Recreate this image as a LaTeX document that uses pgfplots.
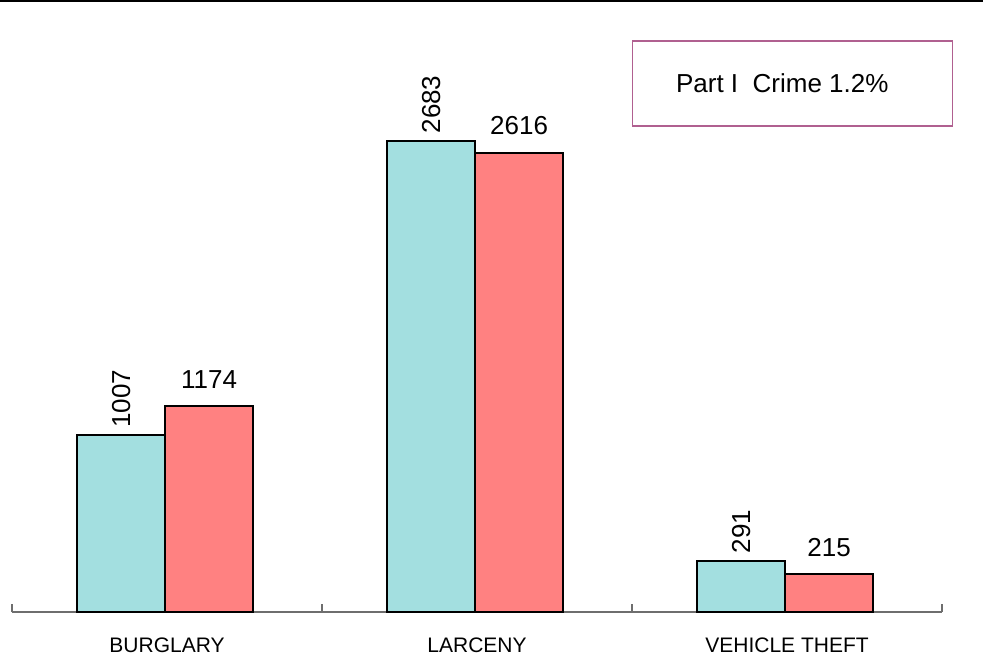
\documentclass[border=0pt]{standalone}
\usepackage{fontspec}
\setmainfont{Liberation Sans}
\usepackage{pgfplots}
\pgfplotsset{compat=1.18}
\definecolor{barteal}{HTML}{A3DFE0}
\definecolor{barred}{HTML}{FF8181}
\definecolor{boxline}{HTML}{B06090}
\definecolor{axisgray}{HTML}{6E6E6E}
\begin{document}
\begin{tikzpicture}
\path[use as bounding box] (0,0) rectangle (491.5pt,335.5pt);
\draw[line width=1pt] (0,335pt) -- (491.5pt,335pt);
\begin{axis}[
    at={(6pt,29.5pt)}, anchor=south west,
    scale only axis,
    width=465pt, height=306pt,
    ybar, bar width=0.284,
    xmin=-0.5, xmax=2.5,
    ymin=0, ymax=3487,
    axis x line=bottom, axis y line=none,
    x axis line style={-, axisgray, line width=0.6pt},
    xtick={-0.5,0.5,1.5,2.5},
    xticklabels={},
    tick align=inside,
    major tick length=4pt,
    major x tick style={axisgray, line width=0.6pt},
    extra x ticks={0,1,2},
    extra x tick labels={BURGLARY,LARCENY,VEHICLE THEFT},
    extra x tick style={major tick length=0pt},
    xticklabel style={font=\fontsize{10.5}{12}\selectfont, yshift=-9.5pt, text=black},
    /pgf/number format/assume math mode=true,
    /pgf/number format/1000 sep={},
    nodes near coords,
    every node near coord/.append style={font=\fontsize{13}{15}\selectfont, text=black},
    clip=false,
    ]
    \addplot[fill=barteal, draw=black, line width=1pt, bar shift=-0.148,
        every node near coord/.append style={rotate=90, anchor=west, xshift=0pt}]
        coordinates {(0,1007) (1,2683) (2,291)};
    \addplot[fill=barred, draw=black, line width=1pt, bar shift=0.136,
        every node near coord/.append style={anchor=south, yshift=5pt}]
        coordinates {(0,1174) (1,2616) (2,215)};
    \node[draw=boxline, line width=0.6pt, minimum width=160pt, minimum height=42.5pt,
        font=\fontsize{13}{15}\selectfont, text depth=0pt]
        at (rel axis cs:0.839,0.8636) {\hspace*{-10pt}Part I\ \ Crime 1.2\%};
\end{axis}
\end{tikzpicture}
\end{document}
